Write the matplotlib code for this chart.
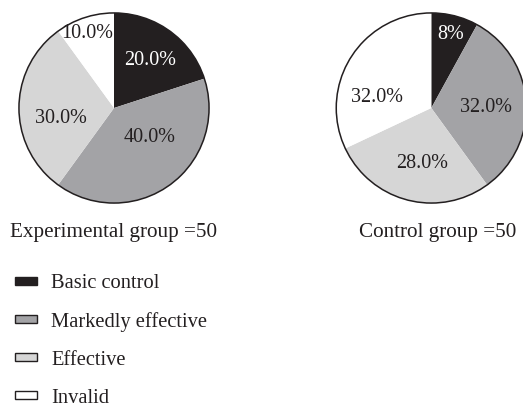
import matplotlib.pyplot as plt
from matplotlib.patches import Circle

plt.rcParams['font.family'] = ['Liberation Serif', 'DejaVu Serif']

categorias = ['Basic control', 'Markedly effective', 'Effective', 'Invalid']
experimental = [20.0, 40.0, 30.0, 10.0]
control = [8.0, 32.0, 28.0, 32.0]
etiquetas_exp = ['20.0%', '40.0%', '30.0%', '10.0%']
etiquetas_ctrl = ['8%', '32.0%', '28.0%', '32.0%']
titulos = ['Experimental group =50', 'Control group =50']

colores = ['#231f20', '#a3a3a6', '#d6d6d6', '#ffffff']
colores_texto = ['white', '#231f20', '#231f20', '#231f20']

# posiciones de las etiquetas dentro de cada pastel (radio = 1)
pos_exp = [(0.375, 0.50), (0.375, -0.31), (-0.56, -0.11), (-0.28, 0.78)]
pos_ctrl = [(0.20, 0.775), (0.577, 0.0), (-0.10, -0.58), (-0.57, 0.115)]

fig = plt.figure(figsize=(5.23, 4.08), dpi=100)

def dibujar_pastel(rect, valores, etiquetas, posiciones):
    ax = fig.add_axes(rect)
    wedges, _ = ax.pie(valores, colors=colores, startangle=90, counterclock=False,
                       radius=1, wedgeprops=dict(linewidth=0))
    ax.add_patch(Circle((0, 0), 1, fill=False, edgecolor='#231f20', linewidth=1.1))
    for et, (x, y), c in zip(etiquetas, posiciones, colores_texto):
        ax.text(x, y, et, ha='center', va='center', fontsize=14.5, color=c)
    ax.set_xlim(-1.01, 1.01)
    ax.set_ylim(-1.01, 1.01)
    ax.set_aspect('equal')
    ax.axis('off')
    return wedges

w = 192 / 523
h = 192 / 408
wedges = dibujar_pastel([18 / 523, 1 - 204 / 408, w, h], experimental, etiquetas_exp, pos_exp)
dibujar_pastel([335.3 / 523, 1 - 204 / 408, w, h], control, etiquetas_ctrl, pos_ctrl)

fig.text(113 / 523, 1 - 232 / 408, titulos[0], ha='center', va='center', fontsize=15.2, color='#231f20')
fig.text(438 / 523, 1 - 232 / 408, titulos[1], ha='center', va='center', fontsize=15.2, color='#231f20')

handles = []
for c in colores:
    handles.append(plt.Rectangle((0, 0), 1, 1, facecolor=c, edgecolor='#231f20', linewidth=1))
leg = fig.legend(handles, categorias, loc='upper left', bbox_to_anchor=(15 / 523, 1 - 274 / 408),
                 frameon=False, fontsize=14.8, handlelength=1.05, handleheight=0.22,
                 labelspacing=0.92, handletextpad=0.7, borderpad=0, borderaxespad=0)
for t in leg.get_texts():
    t.set_color('#231f20')

fig.savefig('out.png', dpi=100)
